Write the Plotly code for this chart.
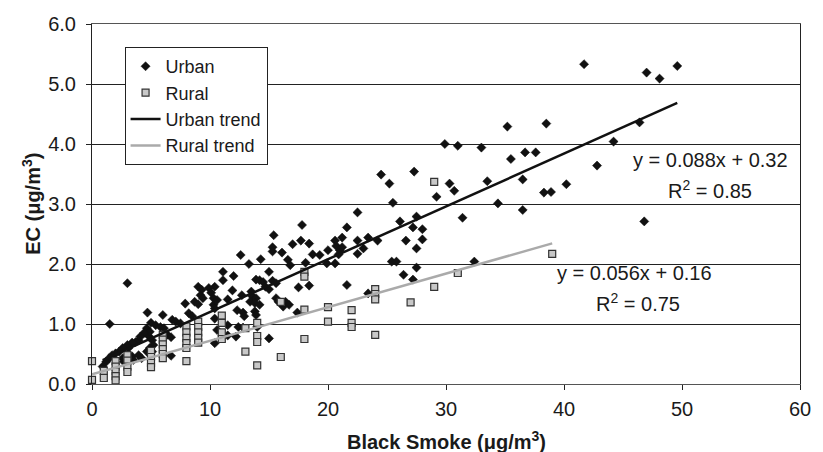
import plotly.graph_objects as go

# ---- data ----
urban_x = [41.7, 47.0, 48.1, 49.6, 46.4, 44.2, 42.8, 40.2, 46.8,
           29.9, 31.0, 33.0, 35.2, 38.5, 35.5, 36.7, 37.6, 30.3, 30.7, 33.5, 36.5, 38.3, 38.9, 34.4, 36.5, 31.4, 32.4, 29.2,
           24.5, 27.3, 25.2, 25.5, 22.5, 26.1, 27.5, 21.6, 27.2, 28.0, 21.2, 20.6, 22.5, 23.4, 24.2, 26.6, 28.0, 20.7, 21.0,
           21.2, 20.0, 23.0, 22.5, 20.9, 27.5, 19.9, 20.6, 25.4, 25.8, 27.5, 26.4, 27.2, 21.6, 23.4,
           17.8, 15.4, 17.7, 17.0, 18.4, 15.3, 15.3, 16.1, 18.7, 19.3, 12.6, 14.3, 13.3, 16.6, 16.8, 18.1, 11.1, 12.0, 15.0,
           11.1, 13.9, 14.2, 14.5, 15.3, 15.6, 14.7, 15.0, 10.4, 17.5, 18.4, 11.9, 12.7, 13.5, 13.6, 13.9, 10.3, 11.5, 13.4,
           13.8, 14.2, 15.6, 15.8, 16.4, 16.7, 16.2, 10.3, 10.4, 12.3, 12.8, 12.9, 13.8, 13.9, 17.4, 10.4, 11.5, 12.4, 12.8,
           14.0, 10.6, 11.5, 12.2, 15.0, 10.4,
           4.7, 6.0, 7.9, 9.0, 9.3, 9.2, 9.4, 8.7, 9.0, 9.9, 10.1, 10.6, 8.2, 8.5, 6.8, 7.1, 5.0, 5.4, 5.8, 6.1, 7.5, 6.4,
           6.7, 4.8, 6.7,
           3.0, 1.5, 4.65, 4.9, 4.4, 4.1, 3.95, 3.7, 3.4, 3.0, 3.1, 2.6, 2.3, 2.0, 1.7, 1.45, 1.2, 0.9, 5.1, 5.2, 4.9, 4.65,
           5.1, 3.4, 3.5, 3.95, 4.2, 2.6, 2.7]
urban_y = [5.33, 5.19, 5.09, 5.30, 4.36, 4.04, 3.64, 3.33, 2.71,
           4.00, 3.97, 3.94, 4.29, 4.34, 3.75, 3.86, 3.86, 3.34, 3.22, 3.38, 3.41, 3.19, 3.20, 3.01, 2.90, 2.77, 2.04, 3.12,
           3.49, 3.54, 3.34, 3.02, 2.86, 2.71, 2.79, 2.61, 2.61, 2.58, 2.44, 2.39, 2.39, 2.44, 2.39, 2.39, 2.41, 2.30, 2.23,
           2.28, 2.23, 2.26, 2.17, 2.16, 2.26, 2.01, 2.01, 2.04, 2.04, 1.94, 1.82, 1.74, 1.65, 1.51,
           2.65, 2.48, 2.39, 2.33, 2.34, 2.28, 2.21, 2.19, 2.16, 2.15, 2.15, 2.08, 2.00, 2.07, 1.98, 2.02, 1.87, 1.80, 1.87,
           1.73, 1.74, 1.73, 1.70, 1.72, 1.68, 1.62, 1.58, 1.62, 1.61, 1.64, 1.56, 1.48, 1.54, 1.46, 1.43, 1.43, 1.41, 1.37,
           1.35, 1.32, 1.43, 1.37, 1.37, 1.32, 1.29, 1.32, 1.26, 1.23, 1.19, 1.13, 1.21, 1.15, 1.19, 1.09, 0.98, 0.95, 0.94,
           0.95, 0.90, 0.81, 0.79, 0.76, 0.68,
           1.19, 1.15, 1.34, 1.62, 1.57, 1.48, 1.43, 1.37, 1.33, 1.60, 1.52, 1.40, 1.18, 1.13, 1.07, 1.04, 1.02, 0.98, 0.95,
           0.93, 1.01, 0.82, 0.78, 0.80, 0.47,
           1.68, 1.00, 0.93, 0.87, 0.85, 0.79, 0.73, 0.70, 0.69, 0.65, 0.60, 0.60, 0.54, 0.51, 0.48, 0.43, 0.37, 0.29, 0.73,
           0.65, 0.60, 0.54, 0.54, 0.46, 0.40, 0.48, 0.43, 0.43, 0.37]

rural_x = [0, 0, 1, 1, 2, 2, 2, 2, 2, 3, 3, 3, 3, 5, 5, 5, 5, 6, 6, 6, 6, 6, 6, 8, 8, 8, 8, 8, 8, 9, 9, 9, 9, 9,
           11, 11, 11, 11, 13, 13, 14, 14, 14, 14, 16, 16, 18, 18, 18, 18, 20, 20, 22, 22, 22, 24, 24, 24, 24, 27,
           29, 29, 31, 39]
rural_y = [0.38, 0.07, 0.22, 0.10, 0.38, 0.29, 0.21, 0.13, 0.06, 0.48, 0.39, 0.29, 0.20, 0.55, 0.45, 0.35, 0.28,
           0.82, 0.74, 0.66, 0.58, 0.50, 0.43, 0.96, 0.86, 0.77, 0.68, 0.60, 0.38, 1.04, 0.95, 0.86, 0.77, 0.69,
           1.14, 1.02, 0.86, 0.75, 0.93, 0.54, 1.02, 0.80, 0.70, 0.31, 1.37, 0.45, 1.87, 1.79, 1.24, 0.75, 1.28, 1.04,
           1.23, 1.02, 0.95, 1.58, 1.50, 1.41, 0.82, 1.36, 3.37, 1.62, 1.85, 2.17]

urban_slope, urban_icpt, urban_r2 = 0.088, 0.32, 0.85
rural_slope, rural_icpt, rural_r2 = 0.056, 0.16, 0.75

x_ticks = [0, 10, 20, 30, 40, 50, 60]
y_ticks = [0, 1, 2, 3, 4, 5, 6]

FONT = "Liberation Sans, Arial, sans-serif"
TXT = "#1a1a1a"

ux_line = [min(urban_x), max(urban_x)]
uy_line = [urban_slope * v + urban_icpt for v in ux_line]
rx_line = [min(rural_x), max(rural_x)]
ry_line = [rural_slope * v + rural_icpt for v in rx_line]

fig = go.Figure()
fig.add_trace(go.Scatter(x=urban_x, y=urban_y, mode="markers", name="Urban",
                         marker=dict(symbol="diamond", size=7, color="#111111",
                                     line=dict(width=0.5, color="#111111")),
                         cliponaxis=False))
fig.add_trace(go.Scatter(x=rural_x, y=rural_y, mode="markers", name="Rural",
                         marker=dict(symbol="square", size=7, color="#c8c8c8",
                                     line=dict(width=1.2, color="#333333")),
                         cliponaxis=False))
fig.add_trace(go.Scatter(x=ux_line, y=uy_line, mode="lines", name="Urban trend",
                         line=dict(color="#111111", width=2.5)))
fig.add_trace(go.Scatter(x=rx_line, y=ry_line, mode="lines", name="Rural trend",
                         line=dict(color="#aaaaaa", width=2.5)))

annots = [
    dict(x=52.4, y=3.73, text=f"y = {urban_slope:.3f}x + {urban_icpt:.2f}"),
    dict(x=52.4, y=3.25, text=f"R<sup>2</sup> = {urban_r2:.2f}"),
    dict(x=46.0, y=1.85, text=f"y = {rural_slope:.3f}x + {rural_icpt:.2f}"),
    dict(x=46.3, y=1.36, text=f"R<sup>2</sup> = {rural_r2:.2f}"),
]
for a in annots:
    a.update(xref="x", yref="y", showarrow=False, xanchor="center", yanchor="middle",
             font=dict(family=FONT, size=20, color=TXT))

annots.append(dict(xref="paper", yref="paper", x=0.5, y=-0.158, showarrow=False,
                   xanchor="center", yanchor="middle",
                   text="<b>Black Smoke (μg/m<sup>3</sup>)</b>",
                   font=dict(family=FONT, size=20, color=TXT)))
annots.append(dict(xref="paper", yref="paper", x=-0.0864, y=0.5, showarrow=False,
                   xanchor="center", yanchor="middle", textangle=-90,
                   text="<b>EC (μg/m<sup>3</sup>)</b>",
                   font=dict(family=FONT, size=20, color=TXT)))

fig.update_layout(
    width=823, height=452,
    margin=dict(l=92, r=13, t=24, b=68),
    paper_bgcolor="white", plot_bgcolor="white",
    font=dict(family=FONT, size=20, color=TXT),
    showlegend=True,
    legend=dict(x=0.046, y=0.936, xanchor="left", yanchor="top",
                bgcolor="white", bordercolor="#222222", borderwidth=1,
                font=dict(family=FONT, size=18, color=TXT),
                tracegroupgap=0, itemwidth=30),
    annotations=annots,
    xaxis=dict(range=[0, 60], tickvals=x_ticks, ticktext=[str(v) for v in x_ticks],
               showgrid=False, zeroline=False, showline=True, linecolor="#555555",
               linewidth=1, mirror=True, ticks="outside", ticklen=5, tickcolor="#222222",
               ticklabelstandoff=2,
               tickfont=dict(family=FONT, size=20, color=TXT)),
    yaxis=dict(range=[0, 6], tickvals=y_ticks, ticktext=[f"{v:.1f}" for v in y_ticks],
               showgrid=True, gridcolor="#222222", gridwidth=1, zeroline=False,
               showline=True, linecolor="#222222", linewidth=1, mirror=True,
               ticks="outside", ticklen=5, tickcolor="#222222",
               ticklabelstandoff=6,
               tickfont=dict(family=FONT, size=20, color=TXT)),
)

fig.write_html("out.html")
